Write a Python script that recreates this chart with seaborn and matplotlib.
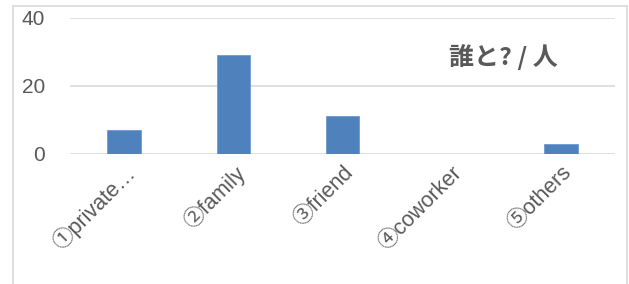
import matplotlib
matplotlib.use("Agg")
import matplotlib.pyplot as plt
import seaborn as sns
import pandas as pd
from matplotlib.patches import Rectangle

# chart data
categories = ['①private…', '②family', '③friend', '④coworker', '⑤others']
counts = [7, 29, 11, 0, 3]
yticks = [0, 20, 40]
title = '誰と? / 人'

sns.set_theme(style='white')
plt.rcParams['font.family'] = ['Liberation Sans', 'Noto Sans CJK JP', 'DejaVu Sans']

df = pd.DataFrame({'who': categories, 'n': counts})

fig = plt.figure(figsize=(6.29, 2.84), dpi=100)
ax = fig.add_axes([0.111, 0.458, 0.867, 0.48])

sns.barplot(data=df, x='who', y='n', color='#4F81BD', width=0.31,
            saturation=1, edgecolor='#6f9bd0', linewidth=0.6, ax=ax, zorder=3)

ax.set_ylim(0, 40)
ax.set_xlim(-0.5, 4.5)
ax.set_yticks(yticks)
ax.yaxis.grid(True, color='#d9d9d9', linewidth=1.2, zorder=0)
ax.set_axisbelow(True)
for s in ax.spines.values():
    s.set_visible(False)
ax.set_xlabel('')
ax.set_ylabel('')
ax.tick_params(axis='y', length=0, pad=18, labelsize=15, labelcolor='#595959')
ax.tick_params(axis='x', length=0, pad=6, labelsize=15.5, labelcolor='#595959')
for lab in ax.get_xticklabels():
    lab.set_rotation(45)
    lab.set_ha('right')
    lab.set_va('top')
    lab.set_rotation_mode('anchor')

ax.text(0.795, 0.71, title, transform=ax.transAxes, ha='center', va='center',
        fontsize=18, fontweight='bold', color='#595959',
        family=['Noto Sans CJK JP', 'DejaVu Sans'])

# outer chart frame
fig.patches.append(Rectangle((13 / 629, -0.1), (627 - 13) / 629, 1.1 - 6 / 284,
                             transform=fig.transFigure, fill=False,
                             edgecolor='#d9d9d9', linewidth=1.2))

fig.savefig('out.png', dpi=100)
